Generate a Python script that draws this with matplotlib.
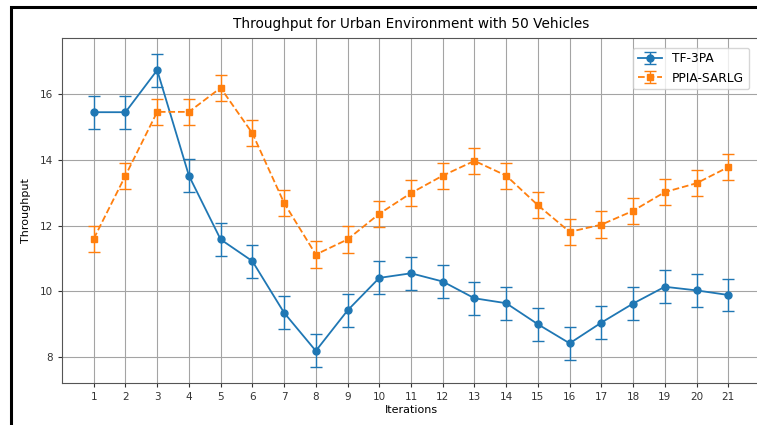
"""Throughput per iteration for the two schemes, urban scenario with 50 vehicles."""
import matplotlib
matplotlib.use("Agg")
import matplotlib.pyplot as plt                                    # noqa: E402
from matplotlib.patches import Rectangle                           # noqa: E402

ITERATIONS = list(range(1, 22))

TF3PA = [15.45, 15.45, 16.73, 13.52, 11.58, 10.92, 9.35, 8.19, 9.42, 10.41,
         10.55, 10.30, 9.79, 9.64, 9.00, 8.42, 9.05, 9.63, 10.14, 10.03, 9.89]
TF3PA_ERR = [0.5] * 21

PPIA = [11.60, 13.52, 15.46, 15.46, 16.19, 14.81, 12.69, 11.12, 11.58, 12.36,
        12.99, 13.52, 13.97, 13.52, 12.62, 11.81, 12.03, 12.45, 13.02, 13.29,
        13.78]
PPIA_ERR = [0.4] * 21


def main() -> int:
    fig = plt.figure(figsize=(7.57, 4.25), dpi=100)
    ax = fig.add_axes([62 / 757, 42 / 425, 698 / 757, 345 / 425])

    ax.errorbar(ITERATIONS, TF3PA, yerr=TF3PA_ERR, fmt="-o", color="#1f77b4",
                lw=1.3, ms=5, capsize=4, elinewidth=1.0, label="TF-3PA")
    ax.errorbar(ITERATIONS, PPIA, yerr=PPIA_ERR, fmt="--s", color="#ff7f0e",
                lw=1.3, ms=5, capsize=4, elinewidth=1.0, label="PPIA-SARLG")

    ax.set_xticks(ITERATIONS)
    ax.set_yticks([8, 10, 12, 14, 16])
    ax.tick_params(labelsize=7.5, length=3, colors="#333333")
    ax.grid(True, color="#a4a4a4", lw=0.8)
    ax.set_xlabel("Iterations", fontsize=8, labelpad=2)
    ax.set_ylabel("Throughput", fontsize=8, labelpad=6)
    ax.set_title("Throughput for Urban Environment with 50 Vehicles",
                 fontsize=9.8, pad=7)
    for sp in ax.spines.values():
        sp.set_color("#555555")
    ax.legend(loc="upper right", fontsize=8.8, framealpha=0.8,
              bbox_to_anchor=(0.993, 0.99))

    # screenshot frame around the figure
    fig.add_artist(Rectangle((11 / 757, -0.1), 1.2, 1.1 - 7 / 425,
                             transform=fig.transFigure, fill=False,
                             ec="black", lw=2.2))

    fig.savefig("out.png", dpi=100)
    return 0


if __name__ == "__main__":
    raise SystemExit(main())
